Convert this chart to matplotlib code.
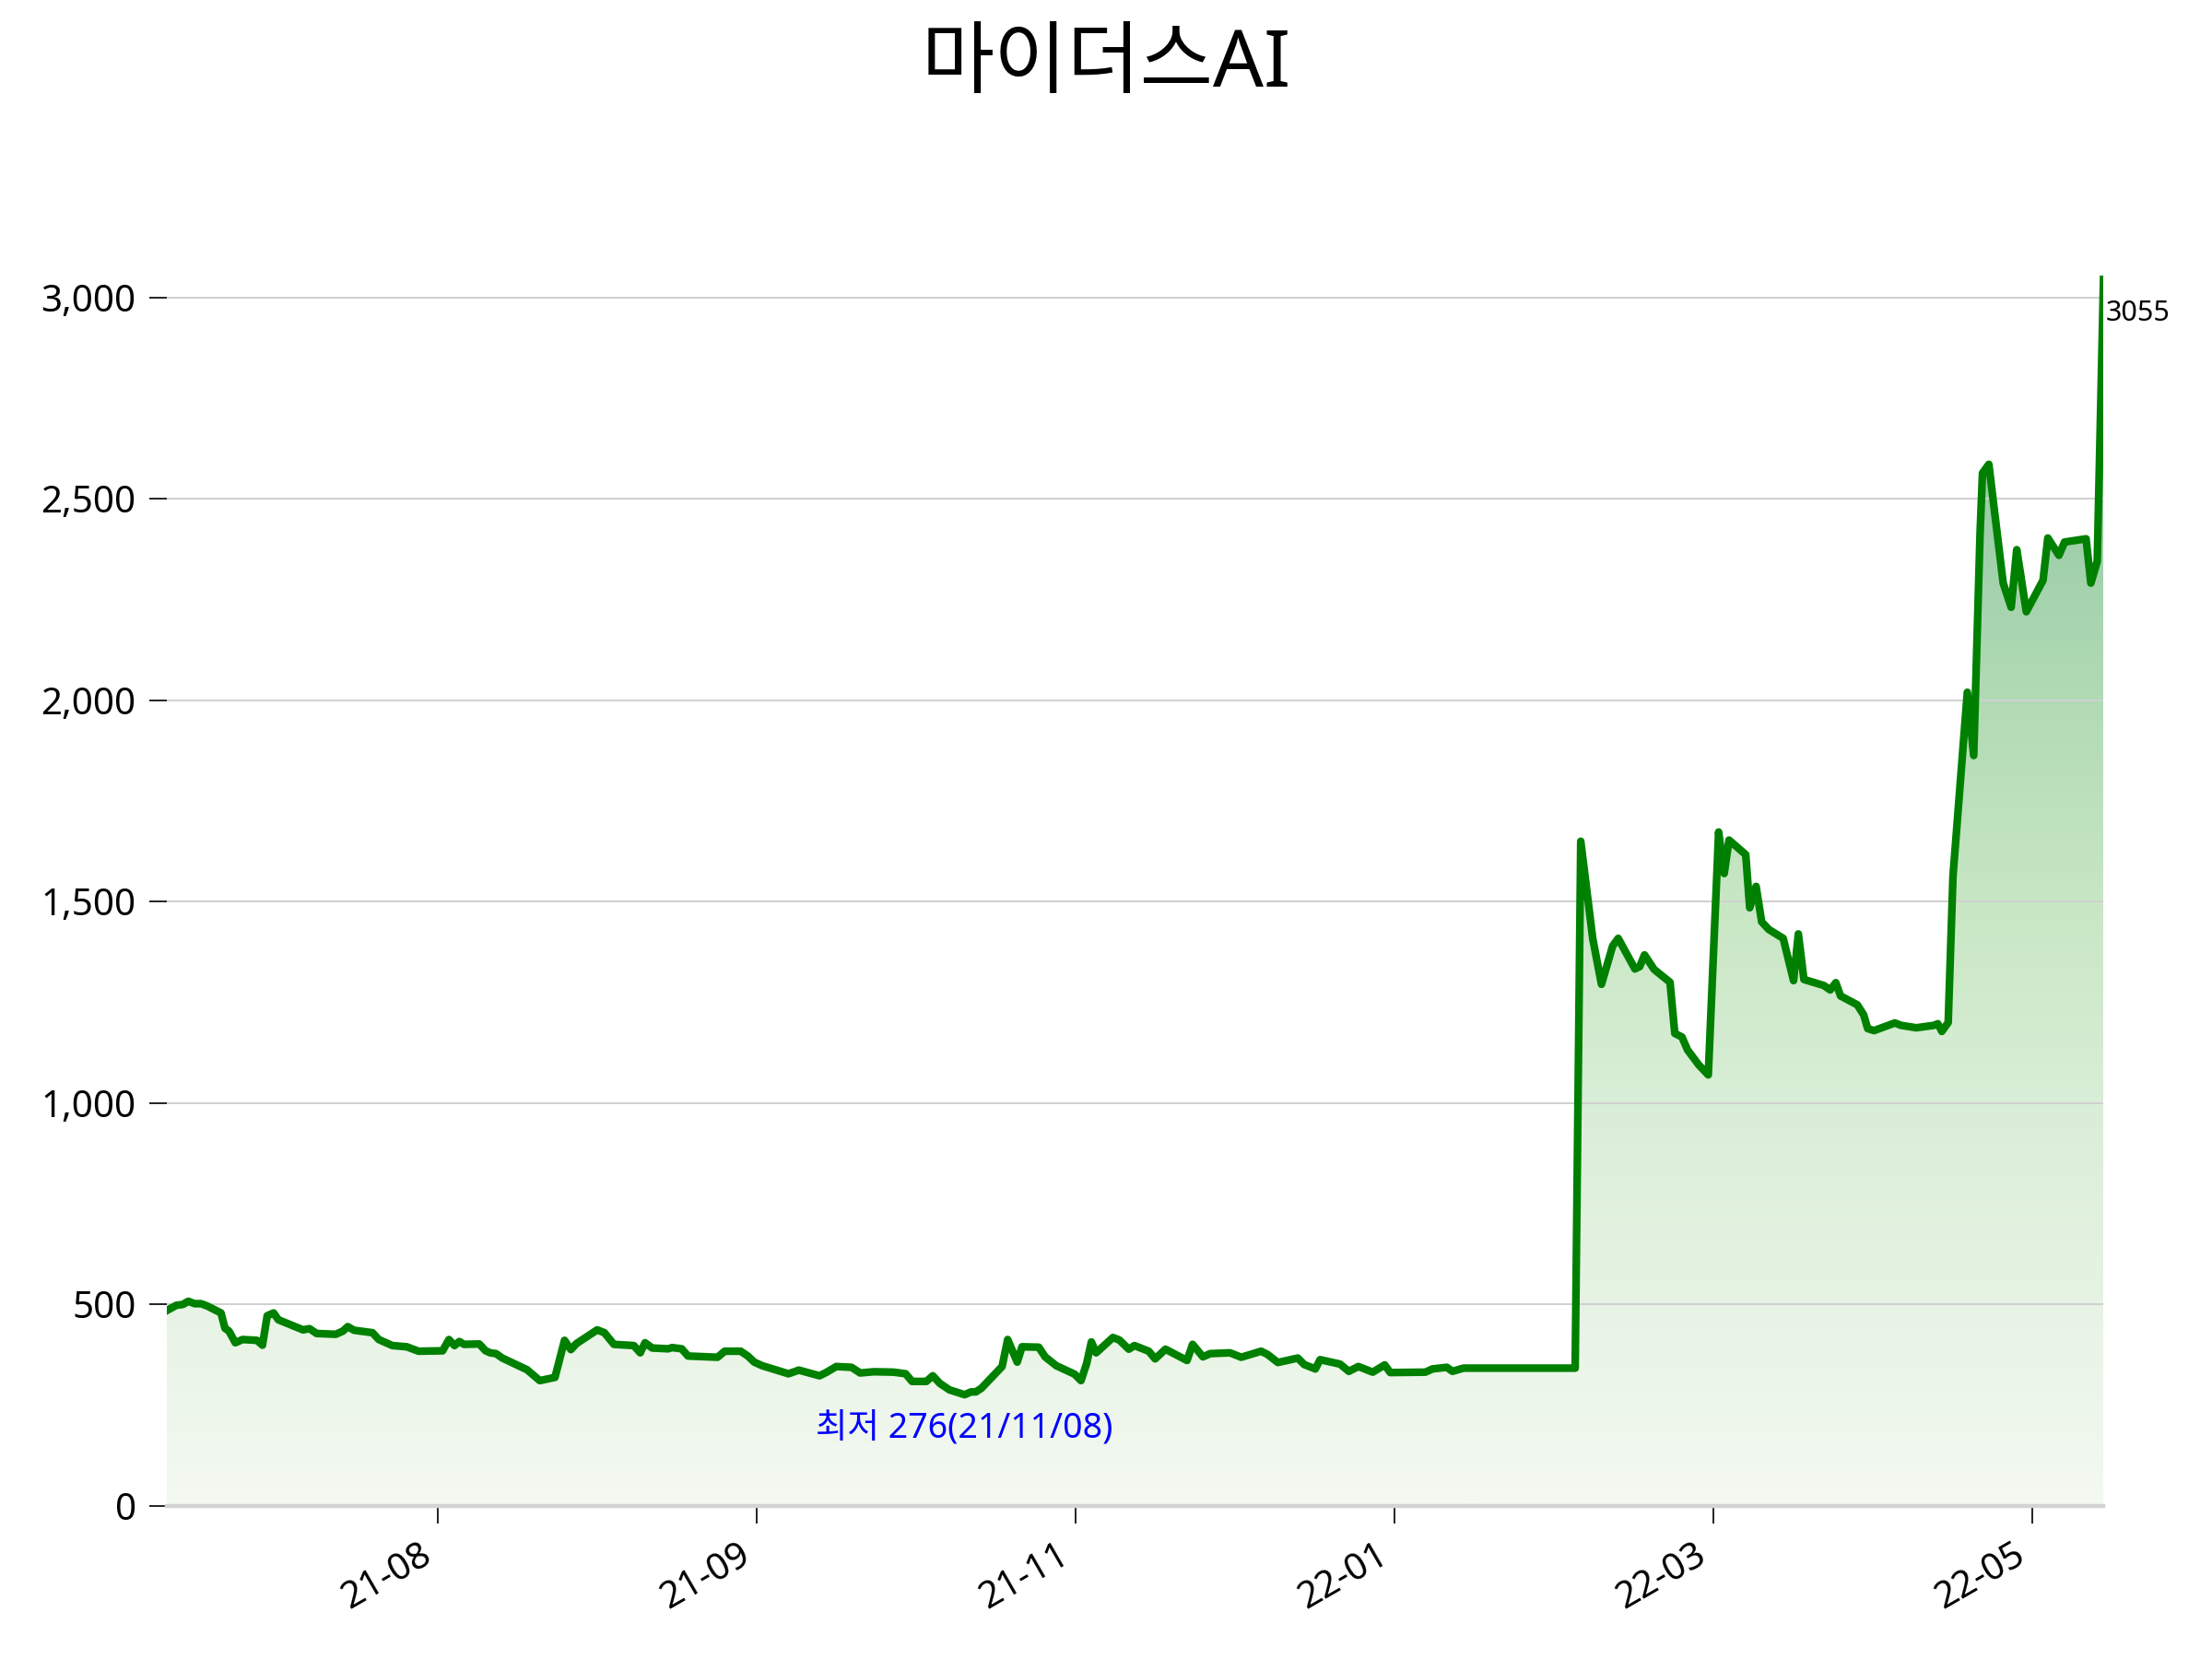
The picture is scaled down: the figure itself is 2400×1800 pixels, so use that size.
import numpy as np
import matplotlib
matplotlib.use("Agg")
import matplotlib.pyplot as plt
from matplotlib.colors import LinearSegmentedColormap
from matplotlib.patches import PathPatch
from matplotlib.ticker import FuncFormatter

plt.rcParams['font.family'] = ['Noto Sans', 'Noto Sans CJK KR', 'DejaVu Sans']

title = "마이더스AI"

# trading-day index and closing price
day = [0, 1.2, 2, 2.7, 3.5, 4.3, 5.1, 6.8, 7.3, 7.8, 8.6, 9.5, 11.3, 12.0, 12.6, 13.4, 14.0,
       16.1, 17.1, 17.9, 18.8, 21.2, 22.1, 22.7, 23.5, 25.8, 26.6, 28.3, 30.1, 31.6, 34.6,
       35.4, 36.1, 36.7, 37.3, 39.2, 40.0, 40.6, 41.3, 42.1, 45.2, 46.8, 48.7, 49.9, 50.7,
       51.4, 54.0, 54.9, 56.1, 58.6, 59.4, 60.0, 60.9, 62.9,
       63.4, 64.6, 65.4, 69.1, 70.0, 72.0, 72.9, 73.7, 74.7, 78.0, 79.3, 81.9, 82.8, 84.0,
       85.9, 87.0, 88.7, 91.2, 92.7, 93.5, 95.3, 96.1, 97.0, 98.2, 100.1, 100.9, 101.5,
       102.2, 104.8, 105.5, 106.7, 107.3, 109.4, 110.2, 111.6, 113.9, 114.7, 115.4, 116.0,
       116.6, 118.7, 119.5, 120.7, 121.4, 123.2, 124.0, 125.3,
       128.0, 128.7, 130.0, 130.9, 133.4, 134.8, 137.3, 138.1, 139.4, 141.9, 142.7, 144.1,
       144.7, 147.2, 148.3, 149.5, 151.3, 152.8, 153.5, 157.9, 158.8, 160.6, 161.3, 162.7,
       176.7,
       177.4, 178.9, 180.0, 181.4, 182.1, 183.1, 184.2, 184.8, 185.4, 186.6, 188.6, 189.2,
       190.1, 190.8, 192.2, 193.4, 194.7, 195.4, 196.0, 198.1, 198.6, 199.4, 200.1, 201.0,
       202.8, 204.1, 204.7, 205.4, 207.9, 208.7, 209.4, 210.0, 212.1, 212.9, 213.4, 214.2,
       216.8, 217.6, 219.5, 221.7, 222.2, 222.7, 223.5, 224.1, 225.9, 226.7, 227.5, 227.8,
       228.6, 230.4, 231.4, 232.1, 232.6, 233.3, 235.4, 236.0, 237.4, 238.1, 240.8, 241.4,
       242.2, 243.0]

price = [485, 498, 500, 508, 502, 502, 496, 479, 441, 434, 405, 413, 411, 399, 472, 479, 462,
         445, 437, 440, 428, 426, 434, 445, 436, 430, 413, 398, 395, 384, 385,
         413, 398, 408, 401, 402, 385, 380, 378, 367, 338, 311, 319, 411, 388,
         403, 437, 430, 401, 398, 380, 405, 392, 390,
         393, 390, 372, 369, 384, 384, 372, 357, 348, 328, 337, 323, 332, 346,
         344, 330, 333, 332, 328, 309, 309, 323, 304, 288, 276, 283, 283,
         292, 346, 413, 357, 395, 394, 370, 348, 327, 311, 353, 407,
         380, 418, 412, 389, 398, 384, 365, 389,
         361, 401, 370, 378, 380, 369, 384, 376, 356, 367, 351, 340,
         363, 352, 334, 346, 332, 350, 331, 332, 340, 344, 334, 342,
         342,
         1650, 1409, 1295, 1390, 1409, 1373, 1333, 1339, 1368, 1332, 1300, 1173,
         1164, 1132, 1095, 1070, 1673, 1570, 1653, 1617, 1485, 1538, 1450, 1431,
         1409, 1304, 1420, 1307, 1292, 1281, 1299, 1266, 1244, 1219, 1185, 1180,
         1199, 1193, 1187, 1193, 1197, 1178, 1200, 1563, 2020, 1863, 2415, 2564,
         2586, 2291, 2231, 2374, 2311, 2220, 2298, 2403, 2360, 2393, 2401, 2291,
         2345, 3055]

tick_pos = [34, 74, 114, 154, 194, 234]
tick_labels = ['21-08', '21-09', '21-11', '22-01', '22-03', '22-05']
y_ticks = [0, 500, 1000, 1500, 2000, 2500, 3000]
min_label = "최저 276(21/11/08)"

x = np.array(day, dtype=float)
y = np.array(price, dtype=float)
ymax = y.max()

fig = plt.figure(figsize=(12, 9), dpi=200)
ax = fig.add_axes([0.0754, 0.0923, 0.8756, 0.7417])

# gradient fill under the line
cmap = LinearSegmentedColormap.from_list(
    'fillg', [(0.0, '#f4f9f2'), (0.33, '#d9eed6'), (0.5, '#c7e6c3'),
              (0.66, '#b0dab4'), (0.8, '#9dcfa9'), (1.0, '#8fc69d')])
poly = ax.fill_between(x, y, 0, facecolor='none', edgecolor='none')
path = poly.get_paths()[0]
patch = PathPatch(path, transform=ax.transData, facecolor='none', edgecolor='none')
ax.add_patch(patch)
grad = np.linspace(0, 1, 512).reshape(-1, 1)
img = ax.imshow(grad, extent=[x[0], x[-1], 0, ymax], origin='lower', aspect='auto',
                cmap=cmap, zorder=0.5, interpolation='bilinear')
img.set_clip_path(patch)

ax.plot(x, y, color='#008000', lw=3.0, zorder=3, solid_joinstyle='round')

ax.set_xlim(x[0], x[-1])
ax.set_ylim(0, ymax)

ax.set_yticks(y_ticks)
ax.yaxis.set_major_formatter(FuncFormatter(lambda v, p: f"{v:,.0f}"))
ax.set_xticks(tick_pos)
ax.set_xticklabels(tick_labels)
plt.setp(ax.get_xticklabels(), rotation=30, ha='right')

ax.grid(axis='y', color='#d0d0d0', lw=0.7, zorder=1.5)
ax.grid(axis='x', visible=False)
for s in ['left', 'top', 'right']:
    ax.spines[s].set_visible(False)
ax.spines['bottom'].set_color('#d3d3d3')
ax.spines['bottom'].set_linewidth(1.6)
ax.tick_params(axis='y', length=7, width=0.7, color='#222222', labelsize=14.5, pad=5)
ax.tick_params(axis='x', length=7, width=0.7, color='#222222', labelsize=14.5, pad=5)

# annotations
imin = int(np.argmin(y))
ax.annotate(min_label, xy=(x[imin], y[imin]), xytext=(0, -13.5), textcoords='offset points',
            ha='center', va='center', color='blue', fontsize=13.5, annotation_clip=False)
ax.annotate(f"{int(y[-1])}", xy=(x[-1], y[-1]), xytext=(1, -15), textcoords='offset points',
            ha='left', va='center', color='black', fontsize=11, annotation_clip=False)

fig.text(0.5, 0.96, title, ha='center', va='center', fontsize=31)

fig.savefig('out.png', dpi=200)
